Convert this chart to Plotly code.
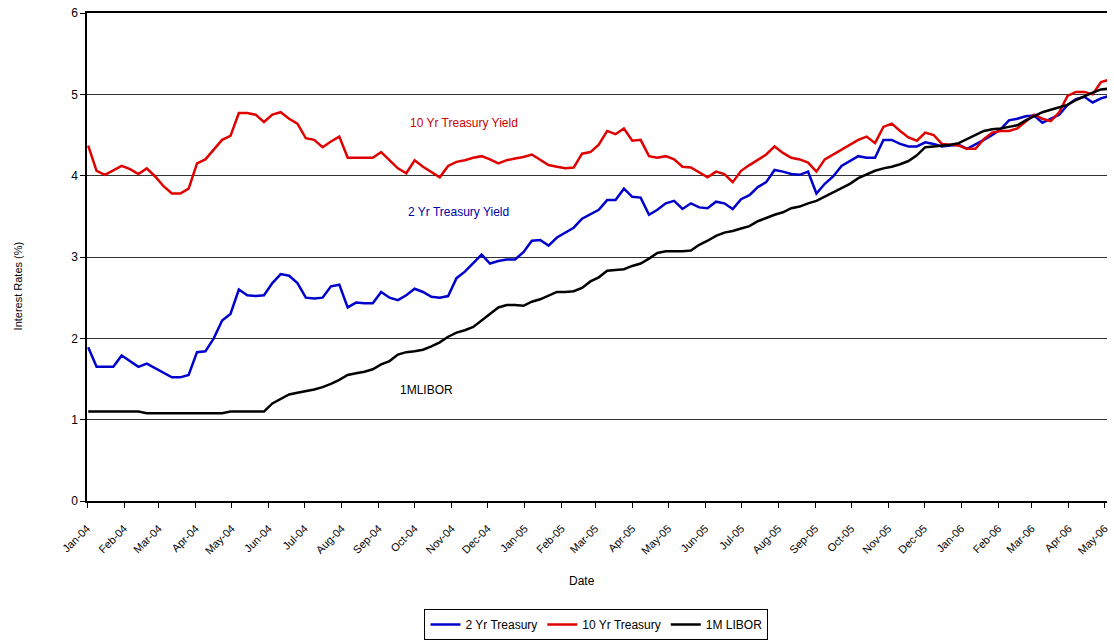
import pandas as pd
import plotly.graph_objects as go

# Weekly observation dates (Fridays), Jan-2004 .. May-2006
dates = pd.date_range("2004-01-02", periods=123, freq="7D")

treasury_2y = [
    1.89, 1.65, 1.65, 1.65, 1.79, 1.72, 1.65, 1.69, 1.63, 1.58,
    1.52, 1.52, 1.55, 1.83, 1.84, 2.00, 2.22, 2.30, 2.60, 2.53,
    2.52, 2.53, 2.68, 2.79, 2.77, 2.68, 2.50, 2.49, 2.50, 2.64,
    2.66, 2.38, 2.44, 2.43, 2.43, 2.57, 2.50, 2.47, 2.53, 2.61,
    2.57, 2.51, 2.50, 2.52, 2.74, 2.82, 2.92, 3.03, 2.92, 2.95,
    2.97, 2.97, 3.06, 3.20, 3.21, 3.14, 3.24, 3.30, 3.36, 3.47,
    3.52, 3.58, 3.70, 3.70, 3.84, 3.74, 3.73, 3.52, 3.58, 3.66,
    3.69, 3.59, 3.66, 3.61, 3.60, 3.68, 3.66, 3.59, 3.71, 3.76,
    3.86, 3.92, 4.07, 4.05, 4.02, 4.01, 4.05, 3.78, 3.90, 3.99,
    4.12, 4.18, 4.24, 4.22, 4.22, 4.44, 4.44, 4.39, 4.36, 4.36,
    4.41, 4.39, 4.36, 4.37, 4.38, 4.33, 4.38, 4.44, 4.50, 4.57,
    4.68, 4.70, 4.73, 4.74, 4.65, 4.70, 4.75, 4.87, 4.94, 4.97,
    4.90, 4.95, 4.98,
]

treasury_10y = [
    4.37, 4.06, 4.01, 4.06, 4.12, 4.08, 4.02, 4.09, 3.99, 3.87,
    3.78, 3.78, 3.84, 4.15, 4.20, 4.32, 4.44, 4.49, 4.77, 4.77,
    4.75, 4.66, 4.75, 4.78, 4.70, 4.64, 4.46, 4.44, 4.35, 4.42,
    4.48, 4.22, 4.22, 4.22, 4.22, 4.29, 4.19, 4.09, 4.03, 4.19,
    4.11, 4.04, 3.98, 4.12, 4.17, 4.19, 4.22, 4.24, 4.20, 4.15,
    4.19, 4.21, 4.23, 4.26, 4.20, 4.13, 4.11, 4.09, 4.10, 4.27,
    4.29, 4.38, 4.55, 4.51, 4.58, 4.43, 4.44, 4.24, 4.22, 4.24,
    4.20, 4.11, 4.10, 4.04, 3.98, 4.05, 4.02, 3.92, 4.06, 4.13,
    4.19, 4.26, 4.36, 4.28, 4.22, 4.20, 4.16, 4.05, 4.20, 4.26,
    4.32, 4.37, 4.44, 4.48, 4.40, 4.60, 4.64, 4.55, 4.47, 4.43,
    4.53, 4.50, 4.39, 4.38, 4.37, 4.33, 4.33, 4.45, 4.53, 4.55,
    4.55, 4.58, 4.66, 4.75, 4.70, 4.67, 4.78, 4.98, 5.03, 5.03,
    5.00, 5.15, 5.18,
]

libor_1m = [
    1.10, 1.10, 1.10, 1.10, 1.10, 1.10, 1.10, 1.08, 1.08, 1.08,
    1.08, 1.08, 1.08, 1.08, 1.08, 1.08, 1.08, 1.10, 1.10, 1.10,
    1.10, 1.10, 1.20, 1.26, 1.31, 1.33, 1.35, 1.37, 1.40, 1.44,
    1.49, 1.55, 1.57, 1.59, 1.62, 1.68, 1.72, 1.80, 1.83, 1.84,
    1.86, 1.90, 1.95, 2.02, 2.07, 2.10, 2.14, 2.22, 2.30, 2.38,
    2.41, 2.41, 2.40, 2.45, 2.48, 2.53, 2.57, 2.57, 2.58, 2.62,
    2.70, 2.75, 2.83, 2.84, 2.85, 2.89, 2.92, 2.98, 3.05, 3.07,
    3.07, 3.07, 3.08, 3.15, 3.20, 3.26, 3.30, 3.32, 3.35, 3.38,
    3.44, 3.48, 3.52, 3.55, 3.60, 3.62, 3.66, 3.69, 3.74, 3.80,
    3.85, 3.90, 3.97, 4.01, 4.06, 4.09, 4.11, 4.14, 4.18, 4.25,
    4.35, 4.36, 4.37, 4.38, 4.40, 4.45, 4.50, 4.55, 4.57, 4.58,
    4.60, 4.62, 4.68, 4.73, 4.78, 4.81, 4.84, 4.87, 4.93, 4.98,
    5.02, 5.06, 5.07,
]

y_ticks = [0, 1, 2, 3, 4, 5, 6]

series_names = ["2 Yr Treasury", "10 Yr Treasury", "1M LIBOR"]
series_colors = ["#0000cc", "#e00000", "#000000"]

FONT = "Liberation Sans, Arial, sans-serif"

fig = go.Figure()
for name, vals, col in zip(series_names, [treasury_2y, treasury_10y, libor_1m], series_colors):
    fig.add_trace(go.Scatter(x=dates, y=vals, mode="lines", name=name,
                             line=dict(color=col, width=2.5)))

fig.add_annotation(x="2004-11-11", y=4.65, text="10 Yr Treasury Yield", showarrow=False,
                   font=dict(color="#cc0000", size=12, family=FONT))
fig.add_annotation(x="2004-11-07", y=3.55, text="2 Yr Treasury Yield", showarrow=False,
                   font=dict(color="#0000aa", size=12, family=FONT))
fig.add_annotation(x="2004-10-11", y=1.37, text="1MLIBOR", showarrow=False,
                   font=dict(color="#000000", size=12, family=FONT))

fig.add_annotation(xref="paper", yref="paper", x=0.485, y=-0.163, text="Date",
                   xanchor="center", yanchor="middle",
                   showarrow=False, font=dict(size=12, family=FONT, color="#000"))
fig.add_annotation(xref="paper", yref="paper", x=-0.0675, y=0.44, text="Interest Rates (%)",
                   xanchor="center", yanchor="middle",
                   textangle=-90, showarrow=False, font=dict(size=11, family=FONT, color="#000"))

fig.update_layout(
    width=1114, height=644,
    margin=dict(l=87, r=4, t=13, b=139),
    paper_bgcolor="white", plot_bgcolor="white",
    font=dict(family=FONT, size=11, color="#000"),
    showlegend=True,
    legend=dict(orientation="h", x=0.4995, y=-0.253, xanchor="center", yanchor="middle",
                bordercolor="#000", borderwidth=1, font=dict(size=12, family=FONT),
                itemwidth=30, tracegroupgap=0),
)
fig.update_xaxes(
    type="date", range=["2004-01-01", "2006-05-03"],
    tick0="2004-01-01", dtick="M1", tickformat="%b-%y", tickangle=-45,
    ticks="outside", ticklen=5, tickcolor="#000", ticklabelstandoff=10,
    ticklabeloverflow="allow",
    showline=True, linecolor="#000", linewidth=1.5, mirror=True,
    showgrid=False, zeroline=False, tickfont=dict(size=11, family=FONT),
)
fig.update_yaxes(
    range=[0, 6], tickmode="array", tickvals=y_ticks,
    ticks="outside", ticklen=5, tickcolor="#000",
    showline=True, linecolor="#000", linewidth=1.5,
    showgrid=True, gridcolor="#333", gridwidth=1.2, zeroline=False,
    tickfont=dict(size=12, family=FONT),
)

# remove the default page margin so the 1114x644 figure fills the window exactly
fig.write_html("out.html", config={"displayModeBar": False},
               post_script="document.body.style.margin='0';document.body.style.overflow='hidden';")
